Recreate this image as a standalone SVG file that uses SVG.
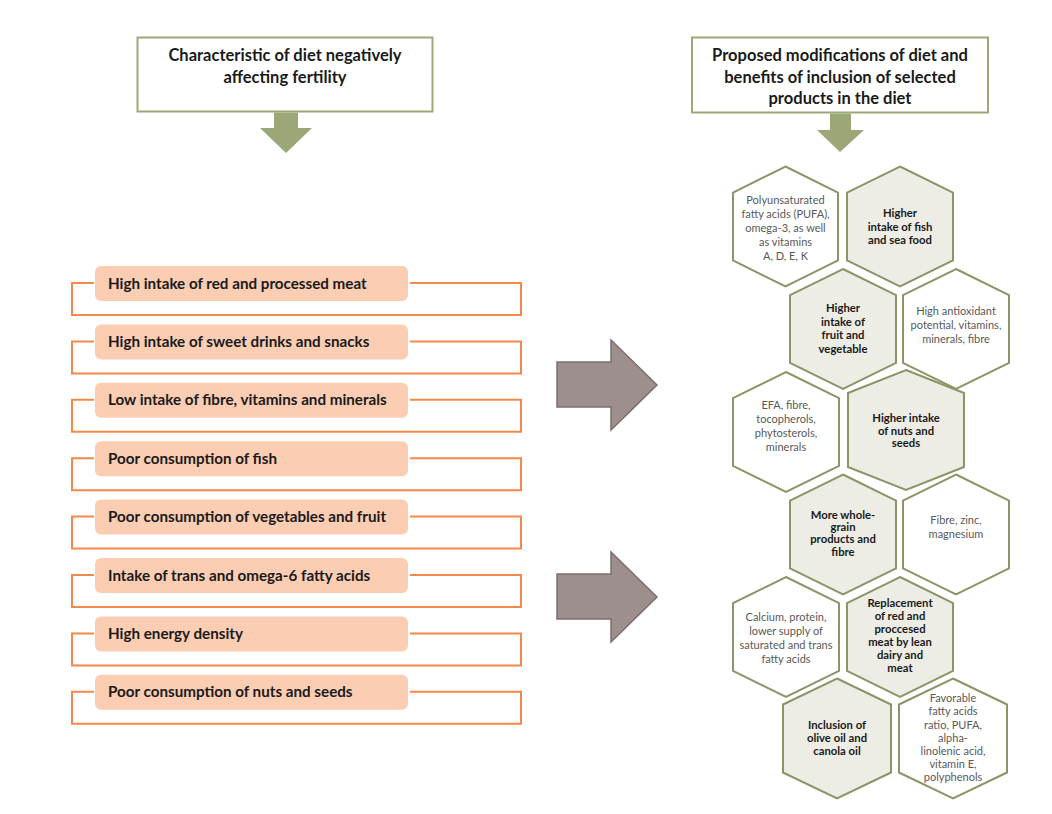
<svg xmlns="http://www.w3.org/2000/svg" width="1052" height="814" viewBox="0 0 1052 814">
<style>
.hdr{fill:#fff;stroke:#9BA977;stroke-width:2}
.hdrt{font-family:Lato,"Liberation Sans",sans-serif;font-weight:bold;font-size:16.5px;fill:#1a1a1a;text-anchor:middle}
.down{fill:#9BA776;stroke:none}
.pill{fill:#FBCDB3;stroke:none}
.brk{fill:none;stroke:#F3884A;stroke-width:2}
.pt{font-family:Lato,"Liberation Sans",sans-serif;font-weight:bold;font-size:15.2px;fill:#1a1a1a}
.rarr{fill:#9E8F8F;stroke:#7D6D6D;stroke-width:1.5}
.hw{fill:#fff;stroke:#8A9667;stroke-width:2}
.hg{fill:#EDEDE5;stroke:#8A9667;stroke-width:2}
.tw{font-family:Lato,"Liberation Sans",sans-serif;font-size:11px;fill:#595959;text-anchor:middle}
.tg{font-family:Lato,"Liberation Sans",sans-serif;font-weight:bold;font-size:11.3px;fill:#1a1a1a;text-anchor:middle}
</style>
<rect width="1052" height="814" fill="#fff"/>

<g id="header-left">
<rect class="hdr" x="137.5" y="37.5" width="295" height="74"/>
<text class="hdrt" x="285" y="61">Characteristic of diet negatively</text>
<text class="hdrt" x="285" y="83">affecting fertility</text>
</g>
<g id="header-right">
<rect class="hdr" x="692" y="37.5" width="296" height="75"/>
<text class="hdrt" x="840" y="61">Proposed modifications of diet and</text>
<text class="hdrt" x="840" y="83">benefits of inclusion of selected</text>
<text class="hdrt" x="840" y="104">products in the diet</text>
</g>

<g id="connectors">
<polygon class="down" points="274,112.5 298,112.5 298,128 312,128 286,153 260,128 274,128"/>
<polygon class="down" points="830,113.5 851,113.5 851,130 864,130 840,152 817,130 830,130"/>
<polygon class="rarr" points="557,362 611,362 611,340 657,385 611,430 611,407 557,407"/>
<polygon class="rarr" points="557,574 611,574 611,552 657,597 611,642 611,619 557,619"/>
</g>

<g id="item1">
<path class="brk" d="M94,283 H72 V315 H521 V283 H410"/>
<rect class="pill" x="95" y="266" width="313" height="35" rx="6"/>
<text class="pt" x="108" y="288.5">High intake of red and processed meat</text>
</g>
<g id="item2">
<path class="brk" d="M94,341.4 H72 V373.4 H521 V341.4 H410"/>
<rect class="pill" x="95" y="324.4" width="313" height="35" rx="6"/>
<text class="pt" x="108" y="346.9">High intake of sweet drinks and snacks</text>
</g>
<g id="item3">
<path class="brk" d="M94,399.8 H72 V431.8 H521 V399.8 H410"/>
<rect class="pill" x="95" y="382.8" width="313" height="35" rx="6"/>
<text class="pt" x="108" y="405.3">Low intake of fibre, vitamins and minerals</text>
</g>
<g id="item4">
<path class="brk" d="M94,458.2 H72 V490.2 H521 V458.2 H410"/>
<rect class="pill" x="95" y="441.2" width="313" height="35" rx="6"/>
<text class="pt" x="108" y="463.7">Poor consumption of fish</text>
</g>
<g id="item5">
<path class="brk" d="M94,516.6 H72 V548.6 H521 V516.6 H410"/>
<rect class="pill" x="95" y="499.6" width="313" height="35" rx="6"/>
<text class="pt" x="108" y="522.1">Poor consumption of vegetables and fruit</text>
</g>
<g id="item6">
<path class="brk" d="M94,575 H72 V607 H521 V575 H410"/>
<rect class="pill" x="95" y="558" width="313" height="35" rx="6"/>
<text class="pt" x="108" y="580.5">Intake of trans and omega-6 fatty acids</text>
</g>
<g id="item7">
<path class="brk" d="M94,633.4 H72 V665.4 H521 V633.4 H410"/>
<rect class="pill" x="95" y="616.4" width="313" height="35" rx="6"/>
<text class="pt" x="108" y="638.9">High energy density</text>
</g>
<g id="item8">
<path class="brk" d="M94,691.8 H72 V723.8 H521 V691.8 H410"/>
<rect class="pill" x="95" y="674.8" width="313" height="35" rx="6"/>
<text class="pt" x="108" y="697.3">Poor consumption of nuts and seeds</text>
</g>

<g id="hex1">
<polygon class="hw" points="785.5,166.5 838,192.5 838,260.5 785.5,286.5 733,260.5 733,192.5"/>
<text class="tw" x="785.5" y="204">Polyunsaturated</text>
<text class="tw" x="785.5" y="218">fatty acids (PUFA),</text>
<text class="tw" x="785.5" y="232">omega-3, as well</text>
<text class="tw" x="785.5" y="246">as vitamins</text>
<text class="tw" x="785.5" y="260">A, D, E, K</text>
</g>
<g id="hex2">
<polygon class="hg" points="900,166.5 953,192.5 953,260.5 900,286.5 847,260.5 847,192.5"/>
<text class="tg" x="900" y="217">Higher</text>
<text class="tg" x="900" y="230.5">intake of fish</text>
<text class="tg" x="900" y="244">and sea food</text>
</g>
<g id="hex3">
<polygon class="hg" points="843,269 896,295 896,363 843,389 790,363 790,295"/>
<text class="tg" x="843" y="312">Higher</text>
<text class="tg" x="843" y="325.5">intake of</text>
<text class="tg" x="843" y="339">fruit and</text>
<text class="tg" x="843" y="352.5">vegetable</text>
</g>
<g id="hex4">
<polygon class="hw" points="956,269 1009,295 1009,363 956,389 903,363 903,295"/>
<text class="tw" x="956" y="314.5">High antioxidant</text>
<text class="tw" x="956" y="328.5">potential, vitamins,</text>
<text class="tw" x="956" y="342.5">minerals, fibre</text>
</g>
<g id="hex5">
<polygon class="hw" points="786,372 839,398 839,466 786,492 733,466 733,398"/>
<text class="tw" x="786" y="408.5">EFA, fibre,</text>
<text class="tw" x="786" y="422.5">tocopherols,</text>
<text class="tw" x="786" y="436.5">phytosterols,</text>
<text class="tw" x="786" y="450.5">minerals</text>
</g>
<g id="hex6">
<polygon class="hg" points="906,370 964,393 964,467 906,490 848,467 848,393"/>
<text class="tg" x="906" y="421.5">Higher intake</text>
<text class="tg" x="906" y="434.5">of nuts and</text>
<text class="tg" x="906" y="447">seeds</text>
</g>
<g id="hex7">
<polygon class="hg" points="843,474.5 896,500.5 896,568.5 843,594.5 790,568.5 790,500.5"/>
<text class="tg" x="843" y="518.5">More whole-</text>
<text class="tg" x="843" y="531">grain</text>
<text class="tg" x="843" y="543">products and</text>
<text class="tg" x="843" y="556">fibre</text>
</g>
<g id="hex8">
<polygon class="hw" points="956,474.5 1009,500.5 1009,568.5 956,594.5 903,568.5 903,500.5"/>
<text class="tw" x="956" y="523.5">Fibre, zinc,</text>
<text class="tw" x="956" y="537.5">magnesium</text>
</g>
<g id="hex9">
<polygon class="hw" points="786,577 839,603 839,671 786,697 733,671 733,603"/>
<text class="tw" x="786" y="620.5">Calcium, protein,</text>
<text class="tw" x="786" y="634.5">lower supply of</text>
<text class="tw" x="786" y="648.5">saturated and trans</text>
<text class="tw" x="786" y="662.5">fatty acids</text>
</g>
<g id="hex10">
<polygon class="hg" points="900,577 953,603 953,671 900,697 847,671 847,603"/>
<text class="tg" x="900" y="606.5">Replacement</text>
<text class="tg" x="900" y="619.5">of red and</text>
<text class="tg" x="900" y="632.5">proccesed</text>
<text class="tg" x="900" y="645.5">meat by lean</text>
<text class="tg" x="900" y="658.5">dairy and</text>
<text class="tg" x="900" y="671.5">meat</text>
</g>
<g id="hex11">
<polygon class="hg" points="837,678.5 891,704.5 891,772.5 837,798.5 783,772.5 783,704.5"/>
<text class="tg" x="837" y="728.5">Inclusion of</text>
<text class="tg" x="837" y="741.5">olive oil and</text>
<text class="tg" x="837" y="755">canola oil</text>
</g>
<g id="hex12">
<polygon class="hw" points="953,678.5 1007,704.5 1007,772.5 953,798.5 899,772.5 899,704.5"/>
<text class="tw" x="953" y="701.5">Favorable</text>
<text class="tw" x="953" y="715">fatty acids</text>
<text class="tw" x="953" y="728.5">ratio, PUFA,</text>
<text class="tw" x="953" y="741.5">alpha-</text>
<text class="tw" x="953" y="755">linolenic acid,</text>
<text class="tw" x="953" y="768">vitamin E,</text>
<text class="tw" x="953" y="781">polyphenols</text>
</g>
</svg>
